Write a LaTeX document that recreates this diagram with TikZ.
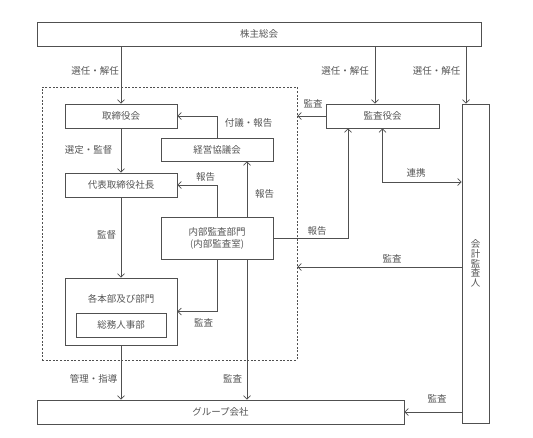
\documentclass[tikz,border=0pt]{standalone}
\usepackage{fontspec}
\setmainfont{Noto Sans CJK JP}
\usetikzlibrary{arrows.meta}
\definecolor{linegray}{RGB}{80,80,80}
\definecolor{textgray}{RGB}{85,85,85}
\tikzset{
	box/.style     = {draw=linegray, rectangle, line width=0.8pt, inner sep=0pt,
		text=textgray},
	dashbox/.style = {draw=linegray, rectangle, line width=0.7pt, inner sep=0pt,
		dash pattern=on 2pt off 1.6pt},
	lbl/.style     = {text=textgray, inner sep=0pt}, % label
	conn/.style    = {draw=linegray, line width=0.7pt} % connector
}

\begin{document}
\begin{tikzpicture}[x=1pt, y=-1pt, >={Straight Barb[length=3.5pt,width=7pt]},
	font=\fontsize{9.5}{11}\selectfont]
	\useasboundingbox (0,0) rectangle (533,437);
	\draw
	node at (169.5,223.5) [dashbox, minimum width=255, minimum height=273] (dbox) {}
	node at (259,34) [box, minimum width=444, minimum height=24] (soukai) {株主総会}
	node at (121,116) [box, minimum width=112, minimum height=24] (tori) {取締役会}
	node at (217,149.5) [box, minimum width=112, minimum height=23] (keiei) {経営協議会}
	node at (121,185) [box, minimum width=112, minimum height=24] (daihyo) {代表取締役社長}
	node at (217,238) [box, minimum width=112, minimum height=42, align=center,
		font=\fontsize{9.5}{12}\selectfont] (naibu) {内部監査部門\\(内部監査室)}
	node at (121,311.5) [box, minimum width=112, minimum height=67] (kakuhon) {}
	node at (121,299) [lbl] (kakuhonL) {各本部及び部門}
	node at (121,325) [box, minimum width=90, minimum height=24] (somu) {総務人事部}
	node at (382.5,116) [box, minimum width=113, minimum height=24] (kansa) {監査役会}
	node at (475.5,263.5) [box, minimum width=27, minimum height=319, align=center,
		font=\fontsize{9.5}{9.8}\selectfont] (kaikei) {会\\計\\監\\査\\人}
	node at (220.5,412) [box, minimum width=367, minimum height=24] (group) {グループ会社};
	
	% labels
	\draw
	node at (95,71) [lbl] (sel1) {選任・解任}
	node at (345,71) [lbl] (sel2) {選任・解任}
	node at (436.5,71) [lbl] (sel3) {選任・解任}
	node at (248.5,123) [lbl] (fugi) {付議・報告}
	node at (88.5,150) [lbl] (sentei) {選定・監督}
	node at (205.5,177) [lbl] (hok1) {報告}
	node at (264.5,194) [lbl] (hok2) {報告}
	node at (317,231) [lbl] (hok3) {報告}
	node at (313,104) [lbl] (kansa1) {監査}
	node at (416,173) [lbl] (renkei) {連携}
	node at (106.5,235) [lbl] (kantoku) {監督}
	node at (203.5,323) [lbl] (kansa2) {監査}
	node at (232.5,379) [lbl] (kansa3) {監査}
	node at (93.5,379) [lbl] (kanri) {管理・指導}
	node at (392,259) [lbl] (kansa4) {監査}
	node at (437,399) [lbl] (kansa5) {監査};
	
	\draw[conn,->] (soukai.south -| tori.north) -- (tori.north);
	\draw[conn,->] ([xshift=-7.5pt]kansa.north |- soukai.south) -- ([xshift=-7.5pt]kansa.north);
	\draw[conn,->] ([xshift=-9.5pt]kaikei.north |- soukai.south) -- ([xshift=-9.5pt]kaikei.north);
	\draw[conn,->] (keiei.north) |- (tori.east);
	\draw[conn,->] (tori.south) -- (daihyo.north);
	\draw[conn,->] (naibu.north) |- (daihyo.east);
	\draw[conn,->] ([xshift=30pt]naibu.north) -- ([xshift=30pt]keiei.south);
	\draw[conn,->] (naibu.east) -| ([xshift=-34.5pt]kansa.south);
	\draw[conn,->] (kansa.west) -- (kansa.west -| dbox.east);
	\draw[conn,<->] (kansa.south) |- ([yshift=81.5pt]kaikei.west);
	\draw[conn,->] ([yshift=-3.5pt]kaikei.west) -- ([yshift=-3.5pt]kaikei.west -| dbox.east);
	\draw[conn,->] (group.east -| kaikei.west) -- (group.east);
	\draw[conn,->] (daihyo.south) -- (kakuhon.north);
	\draw[conn,->] (naibu.south) |- (kakuhon.east);
	\draw[conn,->] ([xshift=30pt]naibu.south) -- ([xshift=30pt]naibu.south |- group.north);
	\draw[conn,->] (kakuhon.south) -- (kakuhon.south |- group.north);
	
\end{tikzpicture}
\end{document}
